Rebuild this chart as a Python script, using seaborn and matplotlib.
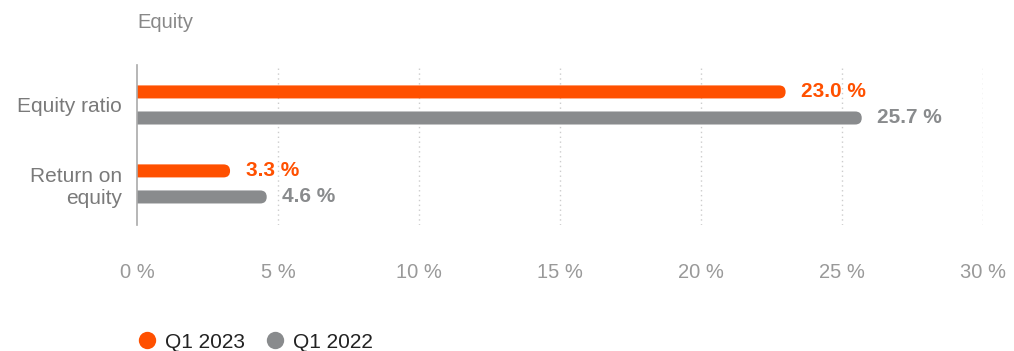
import matplotlib
matplotlib.use("Agg")
import matplotlib.pyplot as plt
import seaborn as sns
import pandas as pd
from matplotlib.patches import FancyBboxPatch
from matplotlib.lines import Line2D

categories = ["Equity ratio", "Return on\nequity"]
series_names = ["Q1 2023", "Q1 2022"]
q1_2023 = [23.0, 3.3]
q1_2022 = [25.7, 4.6]
xticks = [0, 5, 10, 15, 20, 25, 30]
title = "Equity"

ORANGE = "#FF5000"
GRAY = "#898B8D"

df = pd.DataFrame({
    "category": categories * 2,
    "series": [series_names[0]] * 2 + [series_names[1]] * 2,
    "value": q1_2023 + q1_2022,
})

sns.set_theme(style="white")
plt.rcParams["font.family"] = ["Liberation Sans", "DejaVu Sans"]

fig = plt.figure(figsize=(10.14, 3.51), dpi=100)
ax = fig.add_axes([137 / 1014, 1 - 225 / 351, 846 / 1014, 160 / 351])

sns.barplot(data=df, y="category", x="value", hue="series", orient="h",
            palette=[ORANGE, GRAY], width=0.66, gap=0.5, ax=ax,
            legend=False, saturation=1)

ax.set_xlim(0, 30)
ax.set_ylim(1.52, -0.506)

# Replace bars with versions that have a rounded right end
px_per_x = 846 / 30
px_per_y = 160 / (1.52 + 0.506)
aspect = px_per_x / px_per_y  # y-units per x-unit for same pixel length
patches = list(ax.patches)
for p in patches:
    x0 = p.get_x()
    y0 = p.get_y()
    w = p.get_width()
    h = p.get_height()
    col = p.get_facecolor()
    p.remove()
    rad_x = (h / 2) / aspect
    fb = FancyBboxPatch((x0 - rad_x, y0), w + rad_x, h,
                        boxstyle=f"round,pad=0,rounding_size={rad_x}",
                        mutation_aspect=aspect,
                        facecolor=col, edgecolor="none", clip_on=True)
    ax.add_patch(fb)

# value labels
for i, cat in enumerate(categories):
    for j, (vals, col) in enumerate([(q1_2023, ORANGE), (q1_2022, GRAY)]):
        yc = i + (-0.165 if j == 0 else 0.165)
        ax.text(vals[i] + 0.55, yc, f"{vals[i]:.1f} %", color=col,
                fontsize=15, fontweight="bold", va="center", ha="left")

ax.set_xticks(xticks)
ax.set_xticklabels([f"{t} %" for t in xticks])
ax.tick_params(axis="x", length=0, pad=27, labelsize=14.5, labelcolor="#999999")
ax.tick_params(axis="y", length=0, pad=11, labelsize=15, labelcolor="#7a7a7a")
for lbl in ax.get_yticklabels():
    lbl.set_horizontalalignment("right")
    lbl.set_multialignment("right")

ax.set_xlabel("")
ax.set_ylabel("")
for s in ["top", "right", "bottom"]:
    ax.spines[s].set_visible(False)
ax.spines["left"].set_color("#aaaaaa")
ax.spines["left"].set_linewidth(1.2)

for t in xticks[1:]:
    ax.axvline(t, color="#cccccc", linestyle=(0, (1, 2.5)), linewidth=1, zorder=0)

fig.text(137 / 1014, 1 - 22 / 351, title, fontsize=14.5, color="#888888",
         va="center", ha="left")

handles = [Line2D([0], [0], marker="o", linestyle="none", markersize=12.5,
                  markerfacecolor=c, markeredgecolor="none") for c in [ORANGE, GRAY]]
fig.legend(handles, series_names, loc="center left",
           bbox_to_anchor=(128 / 1014, 1 - 342 / 351), ncol=2, frameon=False,
           fontsize=15, handlelength=1.0, handletextpad=0.37, columnspacing=0.94,
           borderpad=0.4, borderaxespad=0, labelcolor="#222222")

fig.savefig("out.png", dpi=100)
